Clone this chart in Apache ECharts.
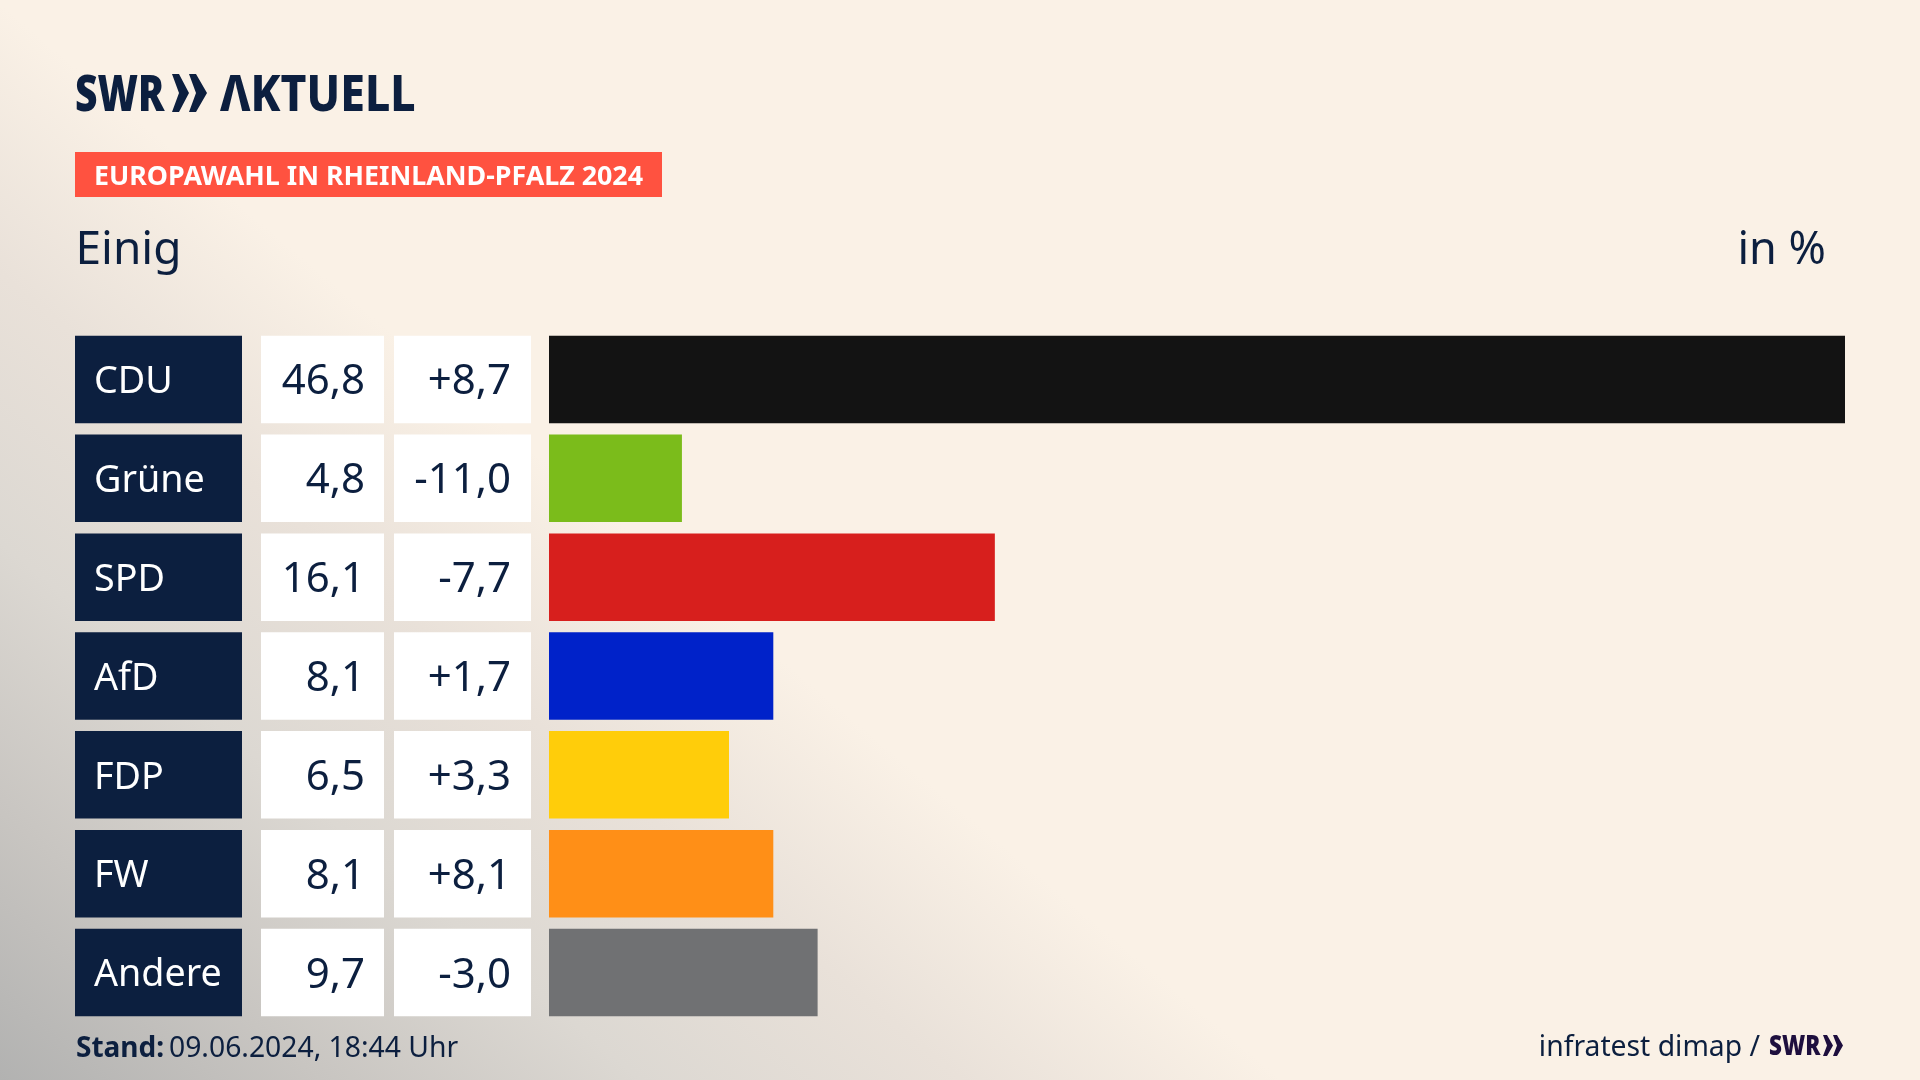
<!DOCTYPE html>
<html style="height: 100%">

<head>
    <meta charset="utf-8">
    <script src="https://cdn.jsdelivr.net/npm/echarts@6/dist/echarts.min.js"></script>
    <style>
        body {
            height: 100%;
            margin: 0;
            background-color: #faf1e6;
            background-image:
                linear-gradient(40deg, #b2b2b1 0%, #c8c5c1 10%, #dcd8d2 20%, #e9e1d9 30%, #faf1e6 40%);
            background-repeat: no-repeat;
        }
    </style>
</head>

<body>
<div id="container" style="width: 1920px; height: 1080px"></div>

<script type="text/javascript">
    var parties = ['CDU', 'Grüne', 'SPD', 'AfD', 'FDP', 'FW', 'Andere'];
    var shares = [46.8, 4.8, 16.1, 8.1, 6.5, 8.1, 9.7];
    var changes = ['+8,7', '-11,0', '-7,7', '+1,7', '+3,3', '+8,1', '-3,0'];
    var colors = ['#131313', '#7bbc1b', '#d71f1d', '#0022c9', '#ffcd0a', '#ff8f17', '#707173'];

    var navy = '#0c1f3f';
    var font = '"Noto Sans", sans-serif';

    // the three table columns are full-width bars in their own small grids
    function tableColumn(index, color, labelPos, distance, size, textColor, texts) {
        return {
            type: 'bar',
            xAxisIndex: index,
            yAxisIndex: index,
            barWidth: 87.5,
            silent: true,
            data: parties.map(function () { return 1; }),
            itemStyle: { color: color },
            label: {
                show: true,
                position: labelPos,
                distance: distance,
                color: textColor,
                fontFamily: font,
                fontSize: size,
                offset: [0, 3],
                formatter: function (p) { return texts[p.dataIndex]; }
            }
        };
    }

    function column(left, width) {
        return { left: left, width: width, top: 330, height: 692 };
    }

    function hiddenX(index, max) {
        return { type: 'value', gridIndex: index, min: 0, max: max, show: false };
    }

    function hiddenY(index) {
        return { type: 'category', gridIndex: index, inverse: true, data: parties, show: false };
    }

    // y is the text baseline, the text box itself is placed from its top
    function headText(x, y, text, size, weight, color, align, scaleX) {
        return {
            type: 'text',
            x: x,
            y: y - size * 0.78,
            scaleX: scaleX || 1,
            silent: true,
            style: {
                text: text,
                fill: color,
                font: weight + ' ' + size + 'px ' + font,
                textAlign: align || 'left'
            }
        };
    }

    // logo arrow: t is the flat top, n how far the notch goes in
    function chevron(x, y, w, h, t, n, color) {
        return {
            type: 'polygon',
            silent: true,
            shape: {
                points: [[x, y], [x + t, y], [x + w, y + h / 2], [x + t, y + h], [x, y + h], [x + n, y + h / 2]]
            },
            style: { fill: color }
        };
    }

    var dom = document.getElementById('container');
    var myChart = echarts.init(dom, null, { renderer: 'canvas' });

    var option = {
        animation: false,
        backgroundColor: 'transparent',
        grid: [column(75, 167), column(261, 123), column(394, 137), column(549, 1296)],
        xAxis: [hiddenX(0, 1), hiddenX(1, 1), hiddenX(2, 1), hiddenX(3, 46.8)],
        yAxis: [hiddenY(0), hiddenY(1), hiddenY(2), hiddenY(3)],
        series: [
            tableColumn(0, navy, 'insideLeft', 19, 37.7, '#ffffff', parties),
            tableColumn(1, '#ffffff', 'insideRight', 19, 42, navy, shares.map(function (v) { return v.toFixed(1).replace('.', ','); })),
            tableColumn(2, '#ffffff', 'insideRight', 20, 42, navy, changes),
            {
                type: 'bar',
                xAxisIndex: 3,
                yAxisIndex: 3,
                barWidth: 87.5,
                silent: true,
                data: shares.map(function (v, i) {
                    return { value: v, itemStyle: { color: colors[i] } };
                })
            }
        ],
        graphic: [
            headText(75, 111, 'SWR', 50, 900, navy, 'left', 0.78),
            chevron(172, 74, 17, 38, 7, 7, navy),
            chevron(189, 74, 18, 38, 7, 7, navy),
            headText(220, 111, 'ΛKTUELL', 50, 800, navy, 'left', 0.89),
            {
                type: 'rect',
                silent: true,
                shape: { x: 75, y: 152, width: 587, height: 45 },
                style: { fill: '#ff5240' }
            },
            headText(94, 185, 'EUROPAWAHL IN RHEINLAND-PFALZ 2024', 27, 700, '#ffffff', 'left', 0.993),
            headText(75.5, 264, 'Einig', 46, 400, navy),
            headText(1826, 264, 'in %', 45, 400, navy, 'right'),
            headText(76, 1057, 'Stand:', 28, 700, navy),
            headText(169, 1057, '09.06.2024, 18:44 Uhr', 28.3, 400, navy),
            headText(1760, 1056, 'infratest dimap /', 28.3, 400, navy, 'right'),
            headText(1769, 1055, 'SWR', 28, 900, '#1e0f3e', 'left', 0.8),
            chevron(1823, 1035, 10, 21, 4, 4, '#1e0f3e'),
            chevron(1833, 1035, 10, 21, 4, 4, '#1e0f3e')
        ]
    };

    myChart.setOption(option, true);
</script>
</body>

</html>
